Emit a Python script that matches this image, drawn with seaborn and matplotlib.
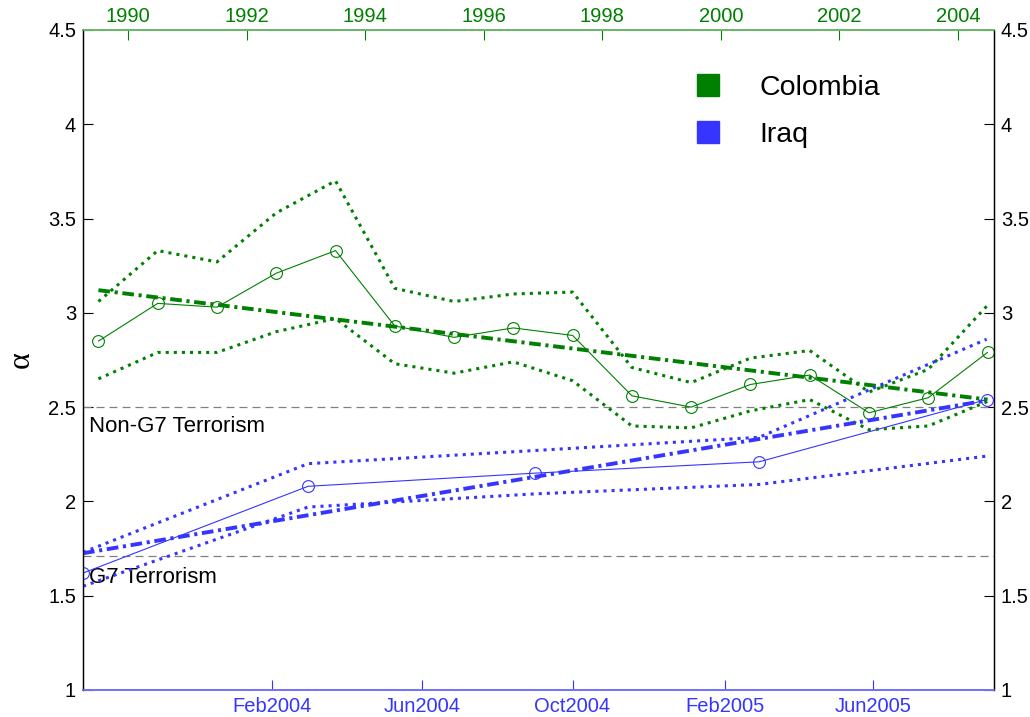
import numpy as np
import pandas as pd
import matplotlib
matplotlib.use('Agg')
import matplotlib.pyplot as plt
import matplotlib.dates as mdates
from matplotlib.lines import Line2D
from matplotlib.ticker import FormatStrFormatter
import seaborn as sns

# Colombia, yearly estimates (top axis)
col_years = [1989.5, 1990.5, 1991.5, 1992.5, 1993.5, 1994.5, 1995.5, 1996.5,
             1997.5, 1998.5, 1999.5, 2000.5, 2001.5, 2002.5, 2003.5, 2004.5]
col_alpha = [2.85, 3.05, 3.03, 3.21, 3.33, 2.93, 2.87, 2.92,
             2.88, 2.56, 2.50, 2.62, 2.67, 2.47, 2.55, 2.79]
col_upper = [3.06, 3.33, 3.27, 3.53, 3.70, 3.13, 3.06, 3.10,
             3.11, 2.71, 2.63, 2.76, 2.80, 2.58, 2.70, 3.04]
col_lower = [2.65, 2.79, 2.79, 2.90, 2.97, 2.73, 2.68, 2.74,
             2.64, 2.40, 2.39, 2.48, 2.54, 2.38, 2.40, 2.53]
col_trend = [3.12, 2.54]   # fitted trend at first / last year

# Iraq, half-yearly estimates (bottom axis)
iraq_dates = ['2003-09-01', '2004-03-01', '2004-09-01', '2005-03-01', '2005-09-01']
iraq_alpha = [1.62, 2.08, 2.15, 2.21, 2.54]
iraq_upper = [1.73, 2.20, 2.27, 2.34, 2.86]
iraq_lower = [1.55, 1.97, 2.04, 2.09, 2.24]
iraq_trend = [1.725, 2.535]
iraq_ticks = ['2004-02-01', '2004-06-01', '2004-10-01', '2005-02-01', '2005-06-01']

g7_level = 1.71
nong7_level = 2.5

green = '#008000'
blue = '#3535ff'

sns.set_style('ticks')
plt.rcParams['font.family'] = ['Liberation Sans', 'DejaVu Sans']
plt.rcParams['text.color'] = 'black'
plt.rcParams['axes.labelcolor'] = 'black'

col = pd.DataFrame({'year': col_years, 'alpha': col_alpha,
                    'upper': col_upper, 'lower': col_lower})
iraq = pd.DataFrame({'date': pd.to_datetime(iraq_dates), 'alpha': iraq_alpha,
                     'upper': iraq_upper, 'lower': iraq_lower})

fig = plt.figure(figsize=(10.3, 7.17), dpi=100)
ax = fig.add_axes([0.0806, 0.0377, 0.8845, 0.9205])
ax2 = ax.twiny()

dashdot = (0, (3, 1.2, 0.8, 1.2))

# Colombia on the top axis
sns.lineplot(data=col, x='year', y='upper', ax=ax, color=green, lw=2.2, linestyle=':', legend=False)
sns.lineplot(data=col, x='year', y='lower', ax=ax, color=green, lw=2.2, linestyle=':', legend=False)
sns.lineplot(data=col, x='year', y='alpha', ax=ax, color=green, lw=0.8, marker='o',
             markersize=8.5, markerfacecolor='none', markeredgecolor=green, markeredgewidth=0.8,
             legend=False)
sns.lineplot(x=[col_years[0], col_years[-1]], y=col_trend, ax=ax, color=green, lw=2.8,
             linestyle=dashdot, legend=False)

# Iraq on the bottom axis
sns.lineplot(data=iraq, x='date', y='upper', ax=ax2, color=blue, lw=2.2, linestyle=':', legend=False)
sns.lineplot(data=iraq, x='date', y='lower', ax=ax2, color=blue, lw=2.2, linestyle=':', legend=False)
sns.lineplot(data=iraq, x='date', y='alpha', ax=ax2, color=blue, lw=0.8, marker='o',
             markersize=8.5, markerfacecolor='none', markeredgecolor=blue, markeredgewidth=0.8,
             legend=False)
sns.lineplot(x=pd.to_datetime([iraq_dates[0], iraq_dates[-1]]), y=iraq_trend, ax=ax2,
             color=blue, lw=2.8, linestyle=dashdot, legend=False)

for lvl in [nong7_level, g7_level]:
    ax.axhline(lvl, color='#808080', lw=0.9, linestyle=(0, (6.4, 4)), zorder=1)

ytr = ax.get_yaxis_transform()
ax.text(0.007, 2.452, 'Non-G7 Terrorism', transform=ytr, fontsize=16, va='top', ha='left',
        color='black')
ax.text(0.007, 1.652, 'G7 Terrorism', transform=ytr, fontsize=16, va='top', ha='left',
        color='black')

# axes: y on both sides, Colombia years on top, Iraq months on bottom
ax.set_ylim(1, 4.5)
ax.set_yticks(np.arange(1, 4.51, 0.5))
ax.yaxis.set_major_formatter(FormatStrFormatter('%g'))
ax.set_xlim(1989.24, 2004.61)
ax.set_xticks(range(1990, 2005, 2))
ax.xaxis.tick_top()
ax.xaxis.set_label_position('top')
ax.set_xlabel('')
ax.set_ylabel('α', fontsize=23, family='Liberation Serif', labelpad=9, color='black')
ax.tick_params(axis='y', direction='in', left=True, right=True, labelleft=True, labelright=True,
               length=7, width=0.8, labelsize=14.5, pad=5, colors='black')
ax.tick_params(axis='x', direction='in', top=True, bottom=False, labeltop=True, labelbottom=False,
               length=7, width=0.8, labelsize=14.5, pad=3, colors=green)

ax2.set_xlim(pd.Timestamp('2003-09-01'), pd.Timestamp('2005-09-07'))
ax2.set_xticks(pd.to_datetime(iraq_ticks))
ax2.xaxis.set_major_formatter(mdates.DateFormatter('%b%Y'))
ax2.xaxis.tick_bottom()
ax2.set_xlabel('')
ax2.set_ylabel('')
ax2.tick_params(axis='x', direction='in', top=False, bottom=True, labeltop=False, labelbottom=True,
                length=7, width=0.8, labelsize=14.5, pad=5, colors=blue)

for a in (ax, ax2):
    for s in ('left', 'right'):
        a.spines[s].set_color('black')
        a.spines[s].set_linewidth(0.9)
    a.spines['top'].set_color('#66b866')
    a.spines['top'].set_linewidth(1.2)
    a.spines['bottom'].set_color('#7070ff')
    a.spines['bottom'].set_linewidth(1.2)
    a.spines['top'].set_visible(True)
    a.spines['right'].set_visible(True)

handles = [Line2D([], [], marker='s', color=green, linestyle='none', markersize=16),
           Line2D([], [], marker='s', color=blue, linestyle='none', markersize=16)]
leg = ax2.legend(handles, ['Colombia', 'Iraq'], loc='upper left', bbox_to_anchor=(0.660, 0.915),
                 bbox_transform=fig.transFigure, frameon=False, fontsize=20.5, borderpad=0,
                 handlelength=1.0, handletextpad=1.3, labelspacing=0.72)
for t in leg.get_texts():
    t.set_color('black')

fig.savefig('out.png', dpi=100)
